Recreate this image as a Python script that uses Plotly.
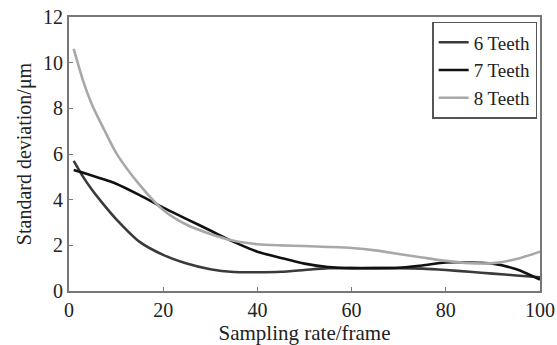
import plotly.graph_objects as go

x = [1, 3, 5, 7.5, 10, 15, 20, 25, 30, 35, 40, 45, 50, 55, 60, 65, 70, 75, 80, 85, 90, 95, 100]
y6 = [5.7, 5.0, 4.4, 3.75, 3.15, 2.15, 1.58, 1.2, 0.95, 0.83, 0.82, 0.84, 0.92, 1.0, 1.0, 1.0, 1.0, 0.98, 0.92, 0.84, 0.76, 0.68, 0.6]
y7 = [5.3, 5.18, 5.05, 4.88, 4.7, 4.2, 3.65, 3.15, 2.65, 2.15, 1.72, 1.45, 1.2, 1.05, 1.0, 1.0, 1.02, 1.12, 1.25, 1.25, 1.2, 0.95, 0.5]
y8 = [10.6, 9.2, 8.1, 7.05, 6.05, 4.65, 3.55, 2.9, 2.5, 2.2, 2.05, 2.0, 1.97, 1.93, 1.88, 1.78, 1.62, 1.47, 1.32, 1.22, 1.22, 1.4, 1.72]
names = ["6 Teeth", "7 Teeth", "8 Teeth"]
colors = ["#3a3a3a", "#111111", "#a8a8a8"]

fig = go.Figure()
for yy, n, c in zip([y6, y7, y8], names, colors):
    fig.add_trace(go.Scatter(x=x, y=yy, name=n, mode="lines",
                             line=dict(color=c, width=2.6, shape="spline", smoothing=0.7)))

font = "Liberation Serif, Times New Roman, serif"
fig.update_layout(
    width=557, height=345,
    margin=dict(l=69, r=17, t=17, b=54),
    paper_bgcolor="white", plot_bgcolor="white",
    font=dict(family=font, size=20, color="#222"),
    showlegend=True,
    legend=dict(x=0.994, y=0.982, xanchor="right", yanchor="top",
                bordercolor="#555", borderwidth=1.5, bgcolor="white",
                font=dict(size=19, family=font, color="#222"),
                tracegroupgap=0, itemwidth=30),
    xaxis=dict(range=[0, 100], dtick=20, showgrid=False, zeroline=False,
               showline=True, linecolor="#777", linewidth=2, mirror=True,
               ticks="inside", ticklen=4, tickcolor="#777", automargin=False,
               title=dict(text="Sampling rate/frame", font=dict(size=21, family=font), standoff=6),
               tickfont=dict(size=20, family=font)),
    yaxis=dict(range=[0, 12], dtick=2, showgrid=False, zeroline=False,
               showline=True, linecolor="#777", linewidth=2, mirror=True,
               ticks="inside", ticklen=4, tickcolor="#777", automargin=False,
               title=dict(text="Standard deviation/μm", font=dict(size=20, family=font), standoff=6),
               tickfont=dict(size=20, family=font)),
)
fig.write_html("out.html")
